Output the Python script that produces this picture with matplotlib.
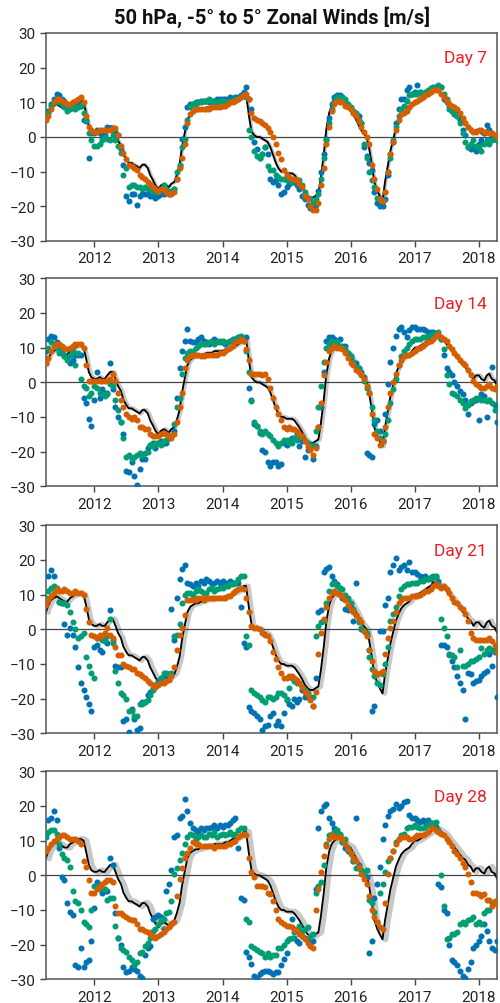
import numpy as np
import pandas as pd
import matplotlib
matplotlib.use('Agg')
import matplotlib.pyplot as plt
import matplotlib.dates as mdates

plt.rcParams['font.family'] = ['Roboto', 'DejaVu Sans']

# semi-monthly dates (1st and 15th), Apr 2011 .. Apr 2018
dates = pd.date_range('2011-04-01', '2018-04-15', freq='SMS')

lead_days = [7, 14, 21, 28]
panel_labels = ['Day 7', 'Day 14', 'Day 21', 'Day 28']
title = '50 hPa, -5° to 5° Zonal Winds [m/s]'
year_ticks = [2012, 2013, 2014, 2015, 2016, 2017, 2018]
y_ticks = [-30, -20, -10, 0, 10, 20, 30]

# observed (black line)
obs = [5, 7, 8.5, 9, 9.5, 9, 8.5, 8, 8, 9, 9.5, 10, 10.5, 10.5, 10, 7, 3, 1.5,
       1, 1, 1.5, 1, 1, 2, 3, 3, 1, -1, -2.5, -5, -6.5, -7.5, -7.5, -8, -8.5, -9, -8, -8, -9, -11, -12.5, -14,
       -15, -14, -13.5, -14, -14.5, -13.5, -13, -11, -8, -3, 1.5, 5, 6.5, 7, 7.5, 7.5, 8, 8, 8.5, 8.5, 8.5, 9, 9, 9,
       9, 9.5, 9.5, 10, 10.5, 10.5, 11, 11.5, 12.5, 12.5, 6, 1.5, 0.5, 0, 0, -0.5, -1, -1.5, -3, -5, -7.5, -9, -10, -10,
       -10.5, -10.5, -10.5, -11, -12, -13, -14.5, -16, -17, -17.5, -17.5, -17, -16.5, -12, -5, 2, 7, 9, 10, 10.5, 10.5, 10, 9, 8.5,
       8, 6.5, 5, 3.5, 2, 1, 0, -3, -8, -13, -15.5, -17, -18.5, -13, -8, -4, -0.5, 2.5, 4.5, 6, 7, 7.5, 8, 9,
       10, 10, 10.5, 11, 11.5, 12, 12.5, 13.5, 13.5, 13, 12.5, 12, 11, 10, 9, 8, 7, 6, 5, 4.5, 3, 2.5, 1, 2,
       2, 1, 0.5, 2, 2.5, 1, 0.5, -1]

# ---------------- Day 7 ----------------
orange_d7 = [5, 6, 8, 10, 11, 11, 10.5, 10, 9.5, 9.5, 10, 10.5, 11, 11.5, 10, 6, 3, 2,
             1.5, 1.5, 2, 2, 2, 2, 2, 2.5, 2.5, 0.5, -2.5, -4.5, -6.5, -8, -8.5, -9, -9.5, -11, -11.5, -12, -13, -13.5, -14.5, -15,
             -15.5, -15, -15, -16, -16.5, -16.5, -16, -12, -9, -6, -2, 4, 6.5, 7.5, 8, 8, 8, 8, 8, 8, 8.5, 8.5, 8.5, 8.5,
             9, 9, 9.5, 10, 10, 10.5, 11, 11.5, 12, 12.5, 11, 7, 5.5, 5, 4.5, 4, 3.5, 2.5, 1.5, 0, -2, -4.5, -6.5, -9.5,
             -11, -11.5, -12, -12, -12.5, -13.5, -14.5, -17, -18, -20, -21, -21, -19, -14, -9, -2, 3, 7.5, 9.5, 10.5, 10, 10, 9, 8.5,
             8, 7, 6, 4.5, 3, 1.5, 0, -2, -8, -12, -15, -18, -18.5, -16, -10, -5, -1.5, 2, 5, 6.5, 7, 7.5, 8.5, 9.5,
             10, 10.5, 11, 11.5, 12, 12.5, 13, 13.5, 13.5, 13.5, 12.5, 11.5, 10.5, 9.5, 9, 8.5, 8, 7, 5.5, 4, 3, 2, 1.5, 1.5,
             2, 2, 1.5, 1.5, 1, 1, 0.5, 0]
green_d7 = [5.5, 7, 9, 10, 10.5, 10, 9.5, 8.5, 7.5, 8, 8.5, 8, 8.5, 9, 7, 5, 1, -1,
            -2.5, -2.5, -2, -1, 0, -0.5, -1, 0.5, -1, -2.5, -4.5, -11, -9, -14.5, -14, -14, -14.5, -14.5, -15, -14.5, -15, -15, -15.5, -16,
            -16, -15, -14, -15, -16, -15.5, -15, -10, -8, -3, -0.5, 5, 8.5, 9.5, 9.5, 10, 10, 10.5, 10.5, 11, 10.5, 10, 10, 10.5,
            10.5, 10.5, 10, 10.5, 10.5, 11, 11, 11.5, 12, 11.5, 2, 0, -4, -5.5, -6, -5, -3, -8.5, -9.5, -9.5, -11, -11.5, -12, -12,
            -12.5, -12.5, -13, -12.5, -12.5, -12.5, -14, -16, -17.5, -18, -19, -18, -16.5, -12, -6, -1, 4, 8, 10.5, 11.5, 11.5, 11.5, 11, 9.5,
            8.5, 7.5, 6.5, 5, 4, -2, -6, -10, -12.5, -14.5, -17.5, -18, -18.5, -16, -10, -6, -1, 3, 6, 8, 9, 10.5, 12, 12.5,
            12.5, 12.5, 13, 12.5, 13, 13.5, 14, 14, 14.5, 15, 14.5, 12.5, 11, 8, 7.5, 7, 6, 4, 1, -1.5, -3, -2, -1, -2.5,
            -3, -4, -2, -1, -2, -1, -0.5, -1]
blue_d7 = [6, 7.5, 9.5, 11, 12.5, 12, 11, 10.5, 9.5, 9, 9, 10, 10, 9, 5, 4.5, -6, 1,
           1, 2, 1, 0, 0.5, 3, 2.5, 2, 1.5, 0.5, -3.5, -8, -17, -18.5, -16.5, -16.5, -19.5, -17, -16.5, -16.5, -16.5, -17, -17, -17.5,
           -17, -16.5, -16.5, -16, -16.5, -16, -15, -12, -8.5, -0.5, 3, 8.5, 9.5, 9.5, 10, 10, 10.5, 10.5, 10.5, 10, 10.5, 10.5, 11, 11,
           11, 11, 11, 11.5, 11, 11.5, 11.5, 12, 13, 14.5, 11, 8, -1.5, -3.5, -6, -5, -3, -5, -12, -13, -12.5, -14, -16.5, -16,
           -14.5, -13.5, -13, -13, -14, -15, -17, -18, -19.5, -20.5, -20.5, -19.5, -15.5, -10, -5, -0.5, 5.5, 9.5, 11.5, 12, 12, 11.5, 10.5, 9,
           8, 7.5, 7, 6, 4, -3, -5.5, -7.5, -9.5, -16, -19, -20, -20, -18, -11, -5, -1.5, 4, 8, 11, 11, 13.5, 14.5, 12.5,
           13, 15, 13, 11.5, 12.5, 13, 14, 14.5, 14.5, 14.5, 14.5, 11, 10, 9, 7.5, 6.5, 6, 5, 2, 0.5, -3, -3.5, -3, -4,
           -2, -1, 1, 3.5, 2, 0, -0.5, -1]

# ---------------- Day 14 ----------------
orange_d14 = [5.5, 7, 9, 10.5, 11, 11, 10.5, 10, 9.5, 10, 10.5, 11, 11, 11, 10, 5, 0.5, 0.5,
              0.5, 0.5, 0.5, 0.5, 0.5, 0.5, 1, 2.5, 0.5, -3, -5, -7, -9, -10, -10.5, -10, -11, -13, -13, -13.5, -13.5, -15, -15.5, -15.5,
              -15.5, -15, -14.5, -15, -15.5, -16, -15, -11.5, -7, -3, 4, 6.5, 7.5, 8, 8, 8, 7.5, 7.5, 8, 8, 8, 8, 8, 8.5,
              8.5, 9, 9.5, 10, 10.5, 11.5, 12, 12.5, 12, 9.5, 6.5, 2.5, 2.5, 2.5, 2.5, 2, 2.5, 1, -1.5, -4.5, -7, -9, -11, -13,
              -13.5, -13, -13.5, -13.5, -14, -15, -15.5, -17, -18.5, -19.5, -21, -19, -13, -6, 2, 6, 9, 10, 10.5, 10, 10, 9.5, 8.5, 7,
              5.5, 5, 3.5, 3, 2, 1, -1, -3, -9, -15, -16, -18, -17, -13, -7, -3, 0, 2.5, 5, 6.5, 7.5, 8, 8, 8.5,
              9, 9.5, 10, 10.5, 11, 11.5, 12, 12.5, 13.5, 14, 13, 12.5, 12, 10.5, 9.5, 8.5, 7.5, 6.5, 5.5, 5, 3.5, 2, 0.5, -0.5,
              -1, -1.5, -1.5, -1, -0.5, -1.5, -2, -1]
green_d14 = [7, 10, 11.5, 11, 10, 8.5, 9, 7.5, 6.5, 8, 9, 5, 8.5, 1, -1, -1.5, -4, -3,
             -1, -1.5, -3, -3.5, -4, -3.5, -0.5, -1, -5, -8, -11.5, -16, -21.5, -21, -22, -21.5, -21, -20.5, -21, -20.5, -20, -18, -18.5, -17.5,
             -17.5, -18, -17, -16.5, -16, -15.5, -12, -7, -4.5, 2.5, 7, 8.5, 9, 9, 10, 10.5, 11, 11, 11, 11.5, 11.5, 11, 11.5, 12,
             12, 11.5, 11.5, 12, 12, 12.5, 13, 13.5, 12, 9, 3, -5.5, -11.5, -12.5, -14, -15, -14, -15, -15.5, -16.5, -17.5, -18.5, -17.5, -16.5,
             -16.5, -17.5, -17.5, -16, -16.5, -15.5, -15.5, -17, -17.5, -18.5, -18, -14, -7, -1, 6, 10, 11, 12, 11.5, 11.5, 10.5, 10, 9.5, 8.5,
             7.5, 6, 4.5, 4, 2.5, 0.5, -1.5, -3, -7, -11, -14, -16, -17, -15, -11, -6, -2, 1, 5, 7.5, 9, 10, 11, 12,
             12.5, 12.5, 12.5, 13, 13, 13.5, 13.5, 14, 14, 14.5, 12.5, 9.5, 2, -0.5, -3, -3.5, -4, -5, -6, -7.5, -6.5, -5.5, -5, -4.5,
             -4.5, -5, -5, -5.5, -5, -6, -8, -8]
blue_d14 = [9, 12.5, 13.5, 13, 11.5, 9.5, 8.5, 7.5, 7, 5.5, 6.5, 8, 8, 8, -4.5, -6, -10.5, -12.5,
            -5, 3, -4.5, -2, -3, -3, 5.5, -2, -7, -10, -11.5, -15, -25.5, -26, -23, -27, -29.5, -25, -22, -22, -19, -18, -17.5, -19,
            -17.5, -17, -17.5, -17.5, -16, -15.5, -14, -4.5, 4, 9, 12, 15.5, 12, 11.5, 11.5, 12.5, 13, 12, 11.5, 11, 12, 12.5, 12, 11.5,
            11.5, 11, 11.5, 12, 12.5, 12.5, 13, 13, 12.5, 13, -1.5, -5, -12, -12.5, -14.5, -19.5, -20, -23, -24, -23, -23, -24, -23.5, -17.5,
            -18, -16.5, -16, -16, -14.5, -18.5, -17, -21.5, -19.5, -19, -22, -18.5, -13, -7, 3, 12, 13, 13, 12.5, 12, 12.5, 10.5, 10.5, 8.5,
            7, 5.5, 5.5, 4, 3, 1.5, -20.5, -21, -21.5, -12, -11, -14, -17, -9, -0.5, 6, 10, 13.5, 15.5, 16, 14.5, 13, 15, 16,
            16, 15.5, 15.5, 15.5, 15, 14.5, 14.5, 14.5, 14, 13.5, 12.5, 8, 4, 3, 2, 0, -1, -2.5, -3.5, -5, -9, -6, -5.5, -5,
            -11, -3.5, -4, -10, -5, 4.5, -6.5, -11.5]

# ---------------- Day 21 ----------------
orange_d21 = [7, 8.5, 9.5, 10.5, 11.5, 11, 11, 11.5, 11, 10.5, 10.5, 11, 10.5, 10.5, 10, 6, 2, -1.5,
              -2, -2.5, -1.5, -2, -1, 0.5, -1.5, -2.5, -5, -7.5, -7.5, -10, -10.5, -11, -11.5, -11.5, -12.5, -13, -13.5, -14, -15, -15.5, -16, -16.5,
              -16, -15.5, -15.5, -15, -14.5, -13.5, -11, -6, -1.5, 0.5, 4, 8.5, 8.5, 8.5, 8.5, 9, 9, 8.5, 9, 9, 9, 9, 9, 9,
              9, 9, 9.5, 9.5, 10.5, 11, 11.5, 12, 11.5, 9, 5, 1, 0.5, 0.5, 0, -1, -1.5, -2, -3.5, -6.5, -8.5, -11, -12.5, -14,
              -14, -13.5, -13.5, -14, -14.5, -15.5, -16.5, -18, -19, -20.5, -22, -18, -7, -1, 3, 6.5, 9, 10.5, 11, 10.5, 10, 9.5, 8.5, 7,
              6, 5, 4, 3, 2, -0.5, -2, -6, -9, -12, -13, -12.5, -12, -7, -2.5, 0.5, 2.5, 5, 7.5, 8.5, 9, 9, 9, 9.5,
              9.5, 9.5, 10, 10.5, 11, 11, 11.5, 12.5, 13, 12.5, 12, 12.5, 11.5, 10.5, 9, 8, 7.5, 6.5, 6, 4.5, 2.5, -1, -2.5, -3,
              -3, -3, -3, -3, -2.5, -3.5, -4.5, -6.5]
green_d21 = [9, 11, 12, 12.5, 12, 8, 7.5, 7.5, 7, 5, 2, 0, -2.5, -2, -1, -8, -10.5, -12.5,
             -14, -2.5, -2, -3, -3, -2, 3, -4, -12, -15.5, -18.5, -19, -20, -23.5, -23.5, -25, -25, -21.5, -21.5, -21, -20.5, -19, -17.5, -16.5,
             -15.5, -14, -12.5, -12.5, -13, -12.5, -2, -1.5, 1.5, 7.5, 10, 10.5, 10.5, 10, 11, 11.5, 11, 10.5, 10.5, 11.5, 12, 11, 11.5, 12,
             12, 12.5, 12.5, 13, 13, 13.5, 14.5, 15.5, 15.5, -2, -4.5, -17.5, -18.5, -19, -19.5, -20.5, -21, -19.5, -19.5, -20, -19.5, -18.5, -18.5, -19,
             -20, -17, -14, -15, -15.5, -15.5, -16.5, -17.5, -18.5, -19.5, -19.5, -2, 1, 2, 2.5, 7.5, 11, 13, 13.5, 12.5, 12, 11.5, 10, 9,
             7.5, 6, 4, 2, 0.5, -0.5, -1, -8, -11.5, -13.5, -15.5, -16, -13, -10, -5, 2.5, 4.5, 6.5, 9.5, 11.5, 12.5, 13, 13, 13.5,
             13.5, 13.5, 14, 14, 14.5, 14.5, 15, 15.5, 15, 13, 3, 0.5, -2, -7.5, -7.5, -8, -11, -6, -10.5, -10.5, -10, -9, -9, -8.5,
             -8, -5.5, -7, -6, -5.5, -6, -6, -5]
blue_d21 = [8, 15.5, 17, 15.5, 11.5, 8, 7.5, 1.5, -1.5, 0.5, -1.5, -5, -11, -15.5, -17.5, -19.5, -21.5, -23.5,
            -5, -4.5, -6, -6.5, -3.5, -4, 5.5, -3, -10.5, -11, -11, -26.5, -26, -29.5, -23, -26, -29, -28.5, -21, -21, -19, -18, -17, -16,
            -15, -14, -13.5, -13, -13, 6, -3, 9, 14.5, 17.5, 18.5, 13.5, 13, 12.5, 13.5, 12.5, 14, 13.5, 14.5, 14, 13, 13.5, 14, 13.5,
            14, 13.5, 13.5, 14, 13.5, 13.5, 13.5, 6.5, -4, -5, -22.5, -23.5, -24, -25, -26, -29, -28, -27.5, -25, -24, -27.5, -26.5, -28, -24,
            -20.5, -21.5, -22, -20, -21, -20, -17.5, -19.5, -19, -20, -22, -14, 5, 5.5, 16.5, 17.5, 18, 15.5, 14, 13, 12, 9, 6, 5.5,
            6, 2.5, 13.5, 2.5, 0, -0.5, -1.5, -6, -23.5, -22, -13, -0.5, -0.5, 7, 9, 16.5, 18.5, 20.5, 17, 18, 18.5, 17, 19.5, 16.5,
            16.5, 16, 15.5, 15, 15.5, 14.5, 14.5, 15, 15.5, 14, -4.5, -4.5, -5, -7, -9, -11, -13.5, -15.5, -17.5, -26, -12.5, -13, -15.5, -15,
            -14.5, -13.5, -12.5, -12, -7, -10.5, -6.5, -19.5]

# ---------------- Day 28 ----------------
orange_d28 = [7, 8, 9, 10, 10.5, 11, 11.5, 11.5, 11, 10.5, 10.5, 10.5, 10, 9, 4, 2.5, -1.5, -5,
              -5, -4, -3.5, -2.5, -2, -1.5, -1.5, -2, -9, -11, -11, -11.5, -12, -12.5, -13, -13, -14, -15.5, -15.5, -16, -16.5, -17, -17.5, -18,
              -17.5, -17, -16.5, -15.5, -15, -14, -13.5, -6, -1, 2, 5, 6.5, 8, 9.5, 9, 9, 8.5, 8.5, 8.5, 8.5, 8.5, 8, 8.5, 8.5,
              8.5, 8.5, 9, 9, 9.5, 10, 11, 11.5, 12, 11.5, 5, 1, -0.5, -3, -3, -3, -3.5, -5, -5.5, -7.5, -10, -12.5, -13.5, -14,
              -14.5, -14.5, -15, -15.5, -16, -17, -17.5, -18.5, -19.5, -20.5, -21, -10, -4, 1, 5.5, 8.5, 10.5, 11.5, 11, 11, 11, 10.5, 9, 7.5,
              6.5, 5, 4, 2.5, 0.5, -1, -2.5, -6, -10, -12, -13.5, -15, -15.5, -8, 0.5, 5, 7, 9, 10.5, 11, 11, 11, 10.5, 10.5,
              11, 11.5, 11.5, 11.5, 12, 12.5, 13.5, 13.5, 13, 12.5, 12, 11.5, 10.5, 9.5, 8.5, 7, 6, 5, 3.5, 2.5, 0.5, -2, -5, -5,
              -5.5, -6, -5.5, -7, -7, -9, -7.5, -8]
green_d28 = [11, 12.5, 13, 13, 12, 9, 6, 5, 4.5, 2.5, -4.5, -7.5, -8, -10, -13.5, -14, -15, -10,
             -3, -3, -3.5, -4, -4, -7, -6.5, -6.5, -14.5, -18, -21, -21.5, -22, -23.5, -24.5, -26, -25, -22.5, -22, -20.5, -19.5, -18, -16, -15.5,
             -14, -13, -12.5, -11, -10.5, -7.5, 0.5, 2, 4.5, 6.5, 9, 11, 12, 11.5, 10.5, 11, 11.5, 11, 11, 12, 11.5, 12.5, 11, 11.5,
             12, 11.5, 12, 12.5, 11.5, 12, 13, 13.5, 13.5, -12.5, -13.5, -20.5, -21, -21.5, -22, -22.5, -23.5, -22.5, -23.5, -23, -23, -21, -21, -20,
             -19, -18.5, -18, -16.5, -16, -14.5, -16, -15.5, -15, -17.5, -17, -5, -3, -2, 3, 9, 11.5, 12, 12.5, 13, 12, 9.5, 10.5, 8,
             6, 4, 2, 2, 1.5, 0.5, 1.5, -7, -8, -10.5, -13.5, -5, -2.5, 1, 4, 5, 7, 9.5, 10.5, 11.5, 12, 13.5, 14, 14,
             14.5, 14, 13.5, 13.5, 14, 14.5, 15, 15, 15.5, 13, 0, -9, -18.5, -18, -17, -17, -16.5, -14, -13.5, -14, -13, -12.5, -12, -14,
             -13.5, -14, -11, -10, -10, -8, -8, -7.5]
blue_d28 = [12, 16, 16.5, 18.5, 16, 8, -0.5, -1.5, -8, -10.5, -11.5, -26, -26.5, -21, -26.5, -25, -24.5, -19,
            -9.5, -2, -4, -5, -4.5, -4.5, 5, 3, -11, -18, -20, -26.5, -28, -27.5, -26.5, -27, -27.5, -29, -29.5, -23, -21, -20.5, -12.5, -12,
            -11.5, -12, -15.5, -4.5, -2.5, 1.5, 11, 11.5, 16.5, 17, 22, 18.5, 15, 13.5, 13, 12.5, 13.5, 13, 13.5, 13.5, 14, 14.5, 13.5, 14.5,
            14, 14.5, 14.5, 15, 16, 16.5, 8, -6.5, -7, -22, -23.5, -25.5, -29, -29.5, -28.5, -28, -27.5, -27.5, -28, -28.5, -28, -28, -26, -24,
            -22.5, -18.5, -12.5, -18, -19, -19.5, -17.5, -18, -19, -19.5, -19, -4, 13.5, 18.5, 20, 20.5, 16.5, 15, 13.5, 12, 11.5, 9.5, 8, 7,
            6.5, 4, 16.5, 3, 1.5, 0, -0.5, -22.5, -19, -6.5, -2.5, 2.5, 10.5, 14.5, 17, 18.5, 19, 20.5, 19.5, 20, 21, 21.5, 17.5, 16.5,
            16.5, 16, 15.5, 16, 15.5, 16, 15, 14.5, 14, -2.5, -3.5, -10, -11, -20, -24.5, -25, -26, -27.5, -29, -29.5, -27, -25, -21, -20,
            -19, -17.5, -14, -16, -19, -21, -21.5, -19]

orange_sets = [orange_d7, orange_d14, orange_d21, orange_d28]
green_sets = [green_d7, green_d14, green_d21, green_d28]
blue_sets = [blue_d7, blue_d14, blue_d21, blue_d28]

for name, arr in [('obs', obs)] + [(f'o{i}', a) for i, a in enumerate(orange_sets)] + \
        [(f'g{i}', a) for i, a in enumerate(green_sets)] + [(f'b{i}', a) for i, a in enumerate(blue_sets)]:
    assert len(arr) == len(dates), (name, len(arr), len(dates))

C_BLUE = '#0173B2'
C_GREEN = '#029E73'
C_ORANGE = '#D55E00'
C_BAND = '#c8c8c8'

fig = plt.figure(figsize=(5.0, 10.04), dpi=100)
bottoms = [0.759, 0.5146, 0.2686, 0.0236]
band_widths = [2.5, 3.0, 3.6, 4.2]
lag_fraction = 0.6

for i in range(4):
    ax = fig.add_axes([0.092, bottoms[i], 0.9026, 0.2072])
    lag = pd.Timedelta(days=lead_days[i] * lag_fraction)
    ax.plot(dates + lag, obs, color=C_BAND, lw=band_widths[i], zorder=1,
            solid_joinstyle='round')
    ax.axhline(0, color='#444444', lw=0.9, zorder=1.5)
    ax.plot(dates, obs, color='black', lw=1.3, zorder=2)
    ax.scatter(dates, blue_sets[i], s=19, color=C_BLUE, linewidths=0, zorder=3)
    ax.scatter(dates, green_sets[i], s=19, color=C_GREEN, linewidths=0, zorder=4)
    ax.scatter(dates, orange_sets[i], s=19, color=C_ORANGE, linewidths=0, zorder=5)

    ax.set_ylim(-30, 30)
    ax.set_yticks(y_ticks)
    ax.set_xlim(pd.Timestamp('2011-04-01'), pd.Timestamp('2018-04-16'))
    ax.set_xticks([pd.Timestamp(f'{y}-01-01') for y in year_ticks])
    ax.xaxis.set_major_formatter(mdates.DateFormatter('%Y'))
    ax.tick_params(axis='both', labelsize=11, labelcolor='#222222',
                   color='#444444', length=4, width=1, direction='out')
    for sp in ax.spines.values():
        sp.set_color('#555555')
        sp.set_linewidth(1.1)
    ax.text(0.977, 0.88, panel_labels[i], transform=ax.transAxes,
            ha='right', va='center', color='#ee1c25', fontsize=12.5)

fig.text(0.543, 0.983, title, ha='center', va='center',
         fontsize=14.5, fontweight='bold', color='#111111')

fig.savefig('out.png', dpi=100)
